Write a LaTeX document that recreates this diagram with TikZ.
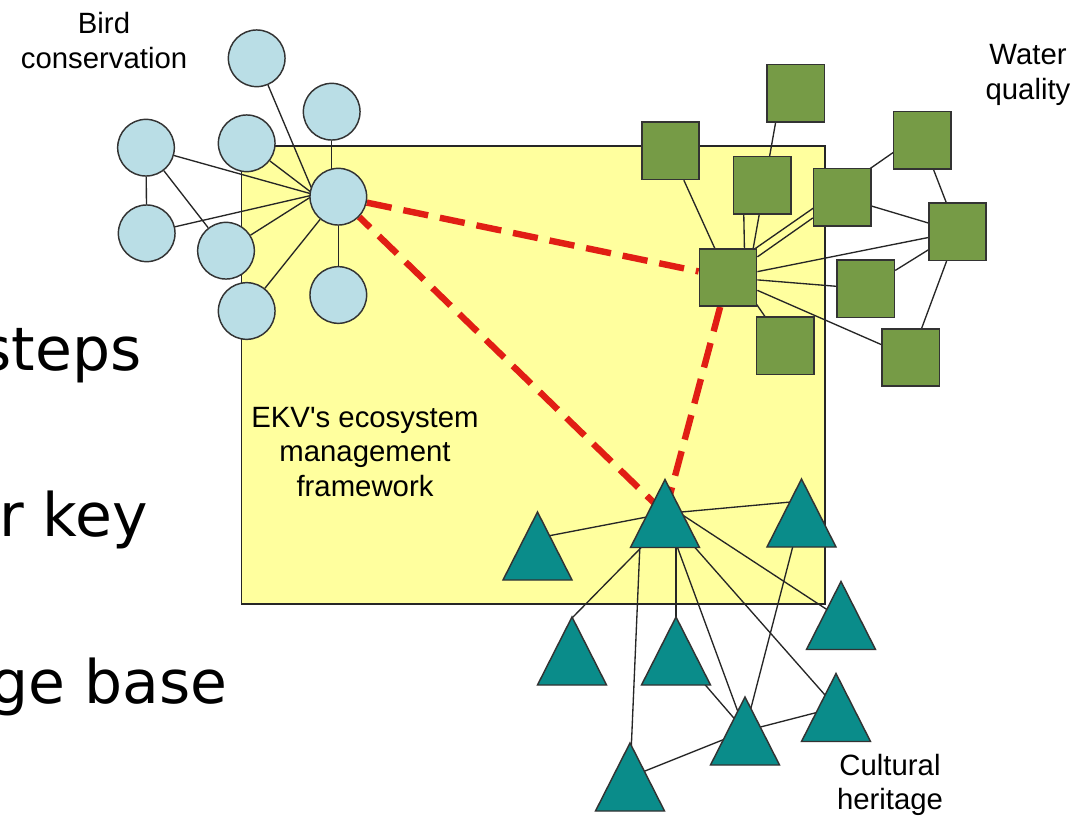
\documentclass[tikz,border=0pt]{standalone}
\usepackage{fontspec}
\setmainfont{DejaVu Sans}
\newfontfamily\labfont{Liberation Sans}
\usetikzlibrary{calc}
\pgfdeclarelayer{bg}
\pgfdeclarelayer{edges}
\pgfsetlayers{bg,edges,main}
\definecolor{cblue}{RGB}{186,222,230}
\definecolor{sgreen}{RGB}{118,155,70}
\definecolor{tteal}{RGB}{10,140,138}
\definecolor{ryellow}{RGB}{255,255,158}
\definecolor{dred}{RGB}{225,30,20}
\begin{document}
\begin{tikzpicture}[x=0.75pt,y=-0.75pt,
  conn/.style={draw=black!85,line width=1pt},
  link/.style={draw=dred,line width=4.8pt,dash pattern=on 19pt off 9pt},
  bubble/.style={circle,draw=black!80,fill=cblue,line width=1.1pt,minimum size=42.5pt,inner sep=0pt},
  box/.style={rectangle,draw=black!80,fill=sgreen,line width=1.1pt,minimum size=43pt,inner sep=0pt},
  trishape/.style={fill=tteal,draw=black!80,line width=1.1pt,line join=miter},
  lab/.style={font=\labfont\fontsize{22pt}{26pt}\selectfont,align=center,inner sep=0pt},
  big/.style={font=\fontsize{45pt}{54pt}\selectfont,inner sep=0pt,anchor=base east}
]
\useasboundingbox (0,0) rectangle (1087,820);
\begin{pgfonlayer}{bg}
  \fill[white] (0,0) rectangle (1087,820);
  \draw[fill=ryellow,draw=black!85,line width=1pt] (241.5,146) rectangle (825,604);
\end{pgfonlayer}

% left slide text (clipped by the picture edge, as in the reference)
\node[big] (w1) at (141.7,370) {steps};
\node[big] (w2) at (148.3,536.7) {r key};
\node[big] (w3) at (228,703) {ge base};

% labels
\node[lab] (lbird) at (104,40.5) {Bird\\conservation};
\node[lab] (lwater) at (1028,75) {Water\\quality};
\node[lab] (lcult) at (890,785) {Cultural\\heritage};
\node[lab] (lekv) at (365,452) {EKV's ecosystem\\management\\framework};

% circles
\node[bubble] (C1) at (256.7,58.3) {};
\node[bubble] (C2) at (331.7,111.7) {};
\node[bubble] (C3) at (146,147.7) {};
\node[bubble] (C4) at (246.7,143.3) {};
\node[bubble] (C5) at (338.3,196.7) {};
\node[bubble] (C6) at (146.7,233.3) {};
\node[bubble] (C7) at (226,250.7) {};
\node[bubble] (C8) at (246.7,311) {};
\node[bubble] (C9) at (338.3,295) {};

% squares
\node[box] (S1) at (795.8,93.3) {};
\node[box] (S2) at (670.5,150.8) {};
\node[box] (S3) at (762.2,185.3) {};
\node[box] (S4) at (922.2,140.3) {};
\node[box] (S5) at (842.2,197.3) {};
\node[box] (S6) at (957.5,231.7) {};
\node[box] (S7) at (728,277.5) {};
\node[box] (S8) at (865.8,288.7) {};
\node[box] (S9) at (785.2,345.8) {};
\node[box] (S10) at (910.8,357.5) {};

% triangles
\foreach \n/\x/\y in {T1/665/513.5,T2/537.5/546,T3/801.5/513,T4/841/615.5,T5/572/651,T6/676/651,T7/836/707.5,T8/745/731,T9/630/777}{
  \coordinate (\n) at (\x,\y);
  \draw[trishape] (\n) ++(0,-34) -- ++(34.5,68) -- ++(-69,0) -- cycle;
}

\begin{pgfonlayer}{edges}
  % circle group
  \coordinate (C5w) at ($(C5)+(-24,-2)$);
  \draw[conn] (C1) -- (C5w);
  \draw[conn] (C3) -- (C5w);
  \draw[conn] (C4) -- (C5w);
  \draw[conn] (C6) -- (C5w);
  \draw[conn] (C7) -- (C5w);
  \draw[conn] (C8) -- (C5);
  \draw[conn] (C9) -- (C5);
  \draw[conn] (C2) -- (C2 |- C5);
  \draw[conn] (C3) -- (C6);
  \draw[conn] (C3) -- (C7);
  % square group
  \draw[conn] ($(S1)+(-15,0)$) -- ($(S7)+(20,0)$);
  \draw[conn] ($(S3)+(-19,0)$) -- ($(S7)+(17,0)$);
  \draw[conn] (S2) -- (S7);
  \draw[conn] ($(S7)+(0,-10)$) -- ($(S4)+(0,-8)$);
  \draw[conn] (S7) -- (S5);
  \draw[conn] (S7) -- (S6);
  \draw[conn] (S7) -- (S8);
  \draw[conn] (S7) -- (S10);
  \draw[conn] ($(S7)+(10,0)$) -- (S9);
  \draw[conn] (S5) -- (S6);
  \draw[conn] (S4) -- (S6);
  \draw[conn] (S6) -- (S8);
  \draw[conn] (S6) -- (S10);
  % triangle group
  \draw[conn] (T1) -- ($(T2)+(0,-8)$);
  \draw[conn] (T1) -- ($(T3)+(0,-12)$);
  \draw[conn] ($(T1)+(-25,30)$) -- (T9);
  \draw[conn] ($(T1)+(-10,20)$) -- ($(T5)+(0,-33)$);
  \draw[conn] ($(T1)+(11,0)$) -- (T6);
  \draw[conn] (T1) -- (T8);
  \draw[conn] ($(T1)+(0,-10)$) -- ($(T4)+(-5,0)$);
  \draw[conn] (T1) -- (T7);
  \draw[conn] (T3) -- (T8);
  \draw[conn] (T6) -- (T8);
  \draw[conn] (T8) -- (T7);
  \draw[conn] (T9) -- (T8);
  % red dashed triangle between hubs
  \draw[link] (C5) -- (S7);
  \draw[link] (S7) -- (T1);
  \draw[link] (T1) -- (C5);
\end{pgfonlayer}
\end{tikzpicture}
\end{document}
